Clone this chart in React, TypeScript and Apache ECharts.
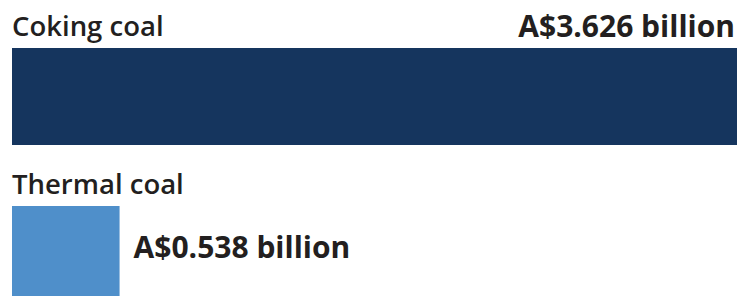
import React, { useEffect, useRef } from "react";
import * as echarts from "echarts";

const categories = ["Coking coal", "Thermal coal"];
const values = [3.626, 0.538];
const valueLabels = ["A$3.626 billion", "A$0.538 billion"];
const colors = ["#15355e", "#4f8fca"];

export default function App() {
  const ref = useRef<HTMLDivElement>(null);
  useEffect(() => {
    if (!ref.current) return;
    const chart = echarts.init(ref.current, null, { renderer: "svg" });
    const font = "'Open Sans', sans-serif";
    chart.setOption({
      animation: false,
      backgroundColor: "#ffffff",
      grid: {
        left: 12,
        right: 1,
        top: 17.5,
        height: 316,
        outerBoundsMode: "none",
        containLabel: false,
      },
      xAxis: {
        type: "value",
        min: 0,
        max: values[0],
        show: false,
      },
      yAxis: {
        type: "category",
        data: categories,
        inverse: true,
        show: false,
      },
      series: [
        {
          type: "bar",
          barWidth: 97,
          data: values.map((v, i) => ({
            value: v,
            itemStyle: { color: colors[i] },
          })),
          label: {
            show: true,
            position: [0, -23],
            align: "left",
            verticalAlign: "middle",
            formatter: (p: any) => categories[p.dataIndex],
            fontFamily: font,
            fontWeight: 600,
            fontSize: 27.5,
            color: "#231f20",
          },
        },
        {
          type: "bar",
          barWidth: 97,
          barGap: "-100%",
          data: values.map((v, i) => ({
            value: v,
            itemStyle: { color: "transparent" },
            label:
              i === 0
                ? {
                    position: ["100%", -23],
                    align: "right",
                    verticalAlign: "middle",
                    offset: [-2, 0],
                  }
                : {
                    position: "right",
                    distance: 14,
                    offset: [0, -8],
                  },
          })),
          label: {
            show: true,
            formatter: (p: any) => valueLabels[p.dataIndex],
            fontFamily: font,
            fontWeight: 700,
            fontSize: 30,
            color: "#231f20",
          },
        },
      ],
    });
    return () => chart.dispose();
  }, []);
  return (
    <div
      ref={ref}
      style={{ position: "fixed", left: 0, top: 0, width: 738, height: 296 }}
    />
  );
}
